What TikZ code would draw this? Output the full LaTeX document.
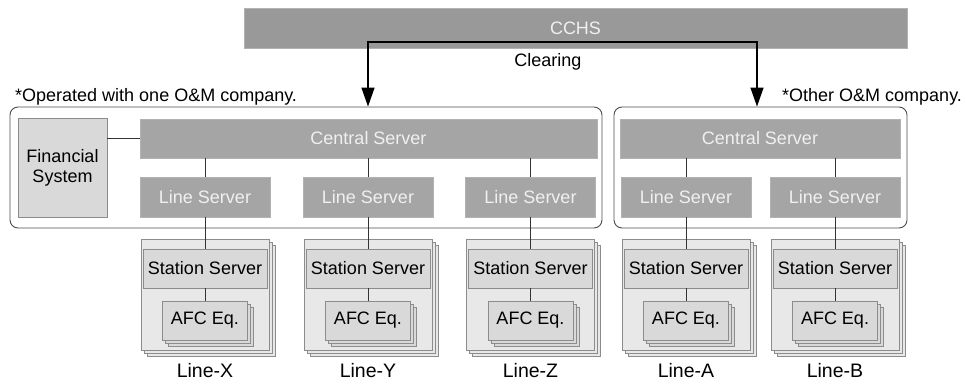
\documentclass[tikz,border=0pt]{standalone}
\usepackage{xcolor}
\usepackage{fontspec}
\setmainfont{Liberation Sans}
\usepackage{tikz}
\usetikzlibrary{positioning}
\usetikzlibrary{shadows}
\usetikzlibrary{arrows.meta}
\definecolor{barfill}{HTML}{999999}
\definecolor{srvfill}{HTML}{A5A5A5}
\definecolor{pagefill}{HTML}{E8E8E8}
\definecolor{boxfill}{HTML}{D9D9D9}
\definecolor{edgegray}{HTML}{8C8C8C}

\begin{document}
\begin{tikzpicture}[x=1pt,y=-1pt,
    every node/.style={font=\fontsize{18}{20}\selectfont,inner sep=0pt},
    grpbox/.style={draw=black!70,line width=0.9pt,rounded corners=8pt},
    srvbox/.style={fill=srvfill,draw=srvfill!85!white,text=white!94!black,minimum height=39pt},
    finbox/.style={fill=boxfill,draw=edgegray,minimum width=89pt,minimum height=99pt,align=center},
    stationpage/.style={fill=pagefill,draw=edgegray,minimum width=128pt,minimum height=111pt,
        double copy shadow={shadow xshift=3pt,shadow yshift=-3pt}},
    stationbox/.style={fill=boxfill,draw=edgegray,minimum width=124pt,minimum height=39pt},
    afcbox/.style={fill=boxfill,draw=edgegray,minimum width=85pt,minimum height=39pt,
        double copy shadow={shadow xshift=3pt,shadow yshift=-3pt}},
    wire/.style={draw=black!80,line width=0.8pt},
    clear/.style={line width=1.4pt,line join=miter,{Triangle[length=19pt,width=13pt]}-{Triangle[length=19pt,width=13pt]}}]
            \useasboundingbox (0,0) rectangle (966,385);
            % Clearing house on top
            \node[srvbox,fill=barfill,minimum width=663pt,minimum height=40pt] (cchs) at (575.5,28) {CCHS};
            \node (clearing) at (548,62) {Clearing};
            % Company groups
            \node[grpbox,minimum width=592pt,minimum height=121pt] (grpL) at (306,167.5) {};
            \node[grpbox,minimum width=293pt,minimum height=121pt] (grpR) at (760.5,167.5) {};
            \node[anchor=west] (noteL) at (15,97) {*Operated with one O\&M company.};
            \node[anchor=west] (noteR) at (782,97) {*Other O\&M company.};
            % Servers of the first company
            \node[finbox] (fin) at (62.5,167.5) {Financial\\System};
            \node[srvbox,minimum width=457pt] (csL) at (368.5,138.5) {Central Server};
            \node[srvbox,minimum width=130pt,minimum height=40pt] (lsX) at (205,197) {Line Server};
            \node[srvbox,minimum width=130pt,minimum height=40pt] (lsY) at (368,197) {Line Server};
            \node[srvbox,minimum width=130pt,minimum height=40pt] (lsZ) at (530.5,197) {Line Server};
            % Servers of the other company
            \node[srvbox,minimum width=280pt] (csR) at (760,138.5) {Central Server};
            \node[srvbox,minimum width=130pt,minimum height=40pt] (lsA) at (686,197) {Line Server};
            \node[srvbox,minimum width=130pt,minimum height=40pt] (lsB) at (835,197) {Line Server};
            % Stations
            \node[stationpage] (pgX) at (205,294.5) {};
            \node[stationbox] (ssX) at (205,268.5) {Station Server};
            \node[afcbox] (afcX) at (205,320.5) {AFC Eq.};
            \node (lnX) at (205,371) {\fontsize{19.5}{22}\selectfont Line-X};
            \node[stationpage] (pgY) at (368,294.5) {};
            \node[stationbox] (ssY) at (368,268.5) {Station Server};
            \node[afcbox] (afcY) at (368,320.5) {AFC Eq.};
            \node (lnY) at (368,371) {\fontsize{19.5}{22}\selectfont Line-Y};
            \node[stationpage] (pgZ) at (530.5,294.5) {};
            \node[stationbox] (ssZ) at (530.5,268.5) {Station Server};
            \node[afcbox] (afcZ) at (530.5,320.5) {AFC Eq.};
            \node (lnZ) at (530.5,371) {\fontsize{19.5}{22}\selectfont Line-Z};
            \node[stationpage] (pgA) at (686,294.5) {};
            \node[stationbox] (ssA) at (686,268.5) {Station Server};
            \node[afcbox] (afcA) at (686,320.5) {AFC Eq.};
            \node (lnA) at (686,371) {\fontsize{19.5}{22}\selectfont Line-A};
            \node[stationpage] (pgB) at (835,294.5) {};
            \node[stationbox] (ssB) at (835,268.5) {Station Server};
            \node[afcbox] (afcB) at (835,320.5) {AFC Eq.};
            \node (lnB) at (835,371) {\fontsize{19.5}{22}\selectfont Line-B};
            % Links
            \draw[wire] (fin.east |- csL) -- (csL.west);
            \draw[wire] (csL.south -| lsX) -- (lsX.north);
            \draw[wire] (csL.south -| lsY) -- (lsY.north);
            \draw[wire] (csL.south -| lsZ) -- (lsZ.north);
            \draw[wire] (csR.south -| lsA) -- (lsA.north);
            \draw[wire] (csR.south -| lsB) -- (lsB.north);
            \draw[wire] (lsX.south) -- (ssX.north);
            \draw[wire] (lsY.south) -- (ssY.north);
            \draw[wire] (lsZ.south) -- (ssZ.north);
            \draw[wire] (lsA.south) -- (ssA.north);
            \draw[wire] (lsB.south) -- (ssB.north);
            \draw[wire] (ssX.south) -- (afcX.north);
            \draw[wire] (ssY.south) -- (afcY.north);
            \draw[wire] (ssZ.south) -- (afcZ.north);
            \draw[wire] (ssA.south) -- (afcA.north);
            \draw[wire] (ssB.south) -- (afcB.north);
            % Clearing flow
            \coordinate (clr) at (560,42);
            \coordinate (tipR) at (757,0);
            \draw[clear] (grpL.north -| lsY) |- (clr) -| (grpR.north -| tipR);
\end{tikzpicture}
\end{document}
